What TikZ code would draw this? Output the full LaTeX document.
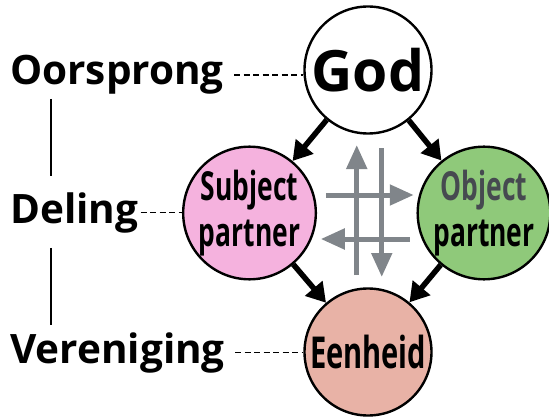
\documentclass[tikz,border=0pt]{standalone}
\usepackage{fontspec}
\setmainfont{Open Sans}
\newfontfamily\condfont{Open Sans}[FakeStretch=0.66]
\usetikzlibrary{positioning}
\usetikzlibrary{arrows.meta}
\usetikzlibrary{calc}

\definecolor{subjpink}{RGB}{245,178,222}
\definecolor{objgreen}{RGB}{143,201,122}
\definecolor{unitsalmon}{RGB}{232,178,166}
\definecolor{flowgray}{RGB}{128,133,138}
\definecolor{objtext}{RGB}{70,74,80}

\begin{document}
\begin{tikzpicture}[
            x = 1pt, y = 1pt,
            > = {Triangle[length=19pt,width=22pt]}, % arrow head style
            on grid,
            ring/.style = {circle, draw, line width=2.4pt, minimum size=127pt,
                inner sep=0pt, align=center,
                font=\condfont\bfseries\fontsize{40}{46}\selectfont},
            level/.style = {inner sep=0pt, anchor=base west,
                font=\bfseries\fontsize{40.5}{42}\selectfont},
            flow/.style = {->, line width=5.5pt},
            cross/.style = {-{Triangle[length=24pt,width=20pt]}, line width=5pt, draw=flowgray, fill=flowgray},
            dots/.style = {line width=1.8pt, dash pattern=on 6pt off 3.5pt},
            stem/.style = {line width=2pt}
        ]

        \useasboundingbox (0,0) rectangle (549,416);

        % the four circles
        \node[ring, font=\bfseries\fontsize{57}{57}\selectfont] (God) at (368,346) {God};
        \node[ring, fill=subjpink] (Sub) [below left=143pt and 118.5pt of God] {Subject\\partner};
        \node[ring, fill=objgreen] (Obj) [below right=143pt and 116pt of God] {\textcolor{objtext}{Object}\\partner};
        \node[ring, fill=unitsalmon, font=\condfont\bfseries\fontsize{44}{44}\selectfont] (Een) [below=282pt of God] {Eenheid};

        % the three levels
        \node[level] (Oor) at (10,331) {Oorsprong};
        \node[level] (Del) at (10,193) {Deling};
        \node[level] (Ver) at (10,53) {Vereniging};

        \draw[stem, shorten <=4pt, shorten >=16pt] ([xshift=41pt]Oor.south west) -- ([xshift=41pt]Del.north west);
        \draw[stem, shorten <=15pt, shorten >=7pt] ([xshift=41pt]Del.south west) -- ([xshift=41pt]Ver.north west);

        \draw[dots] ([xshift=10pt]Oor.east) -- (Oor.east -| God.west);
        \draw[dots] ([xshift=2pt]Del.east) -- (Del.east -| Sub.west);
        \draw[dots] ([xshift=10pt]Ver.east) -- (Ver.east -| Een.west);

        \path[flow]
            (God) edge (Sub)
            (God) edge (Obj)
            (Sub) edge (Een)
            (Obj) edge (Een);

        % give and take in the middle
        \coordinate (mid) at ($(Sub)!0.5!(Obj)$);
        \draw[cross] ([shift={(-10,-62)}]mid) -- ([shift={(-10,68)}]mid);
        \draw[cross] ([shift={(15,65)}]mid) -- ([shift={(15,-64)}]mid);
        \draw[cross] ([shift={(-41,18)}]mid) -- ([shift={(47,18)}]mid);
        \draw[cross] ([shift={(43,-26)}]mid) -- ([shift={(-46,-26)}]mid);

\end{tikzpicture}
\end{document}
